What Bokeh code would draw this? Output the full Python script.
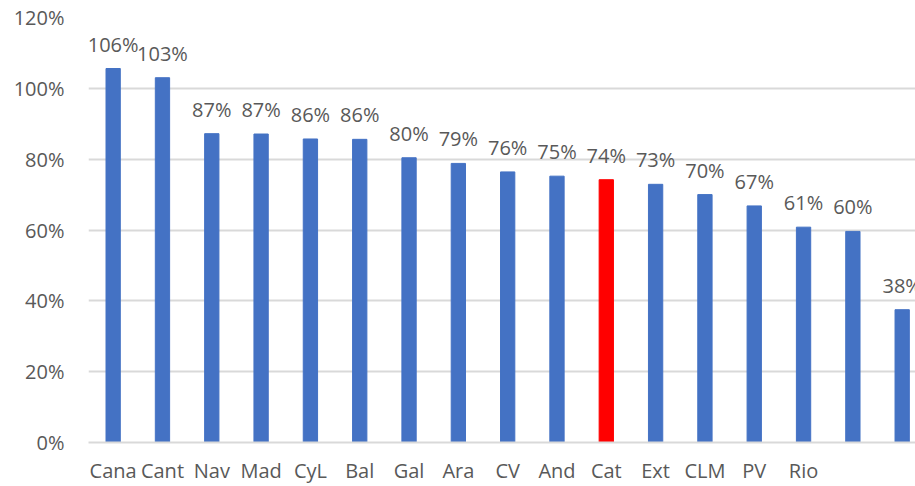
from bokeh.plotting import figure
from bokeh.models import ColumnDataSource, FixedTicker, NumeralTickFormatter, Range1d
from bokeh.core.properties import value
from bokeh.embed import file_html
from bokeh.resources import INLINE

categories = ["Cana", "Cant", "Nav", "Mad", "CyL", "Bal", "Gal", "Ara", "CV",
              "And", "Cat", "Ext", "CLM", "PV", "Rio", "", ""]
values = [1.056, 1.030, 0.872, 0.871, 0.857, 0.856, 0.804, 0.788, 0.764,
          0.752, 0.742, 0.729, 0.700, 0.668, 0.608, 0.596, 0.375]
highlight = "Cat"
y_ticks = [0, 0.2, 0.4, 0.6, 0.8, 1.0, 1.2]

BLUE = "#4472C4"
RED = "#FF0000"
TXT = "#595959"
FONT = "Open Sans"

xs = list(range(len(categories)))
colors = [RED if c == highlight else BLUE for c in categories]
labels = [f"{round(v * 100)}%" for v in values]
src = ColumnDataSource(dict(x=xs, top=values, color=colors, label=labels))

p = figure(width=915, height=486, output_backend="svg", toolbar_location=None,
           x_range=Range1d(-0.5, 16.27), y_range=Range1d(0, 1.2),
           min_border_left=88, min_border_top=17, min_border_bottom=44,
           min_border_right=0)
p.outline_line_color = None
p.background_fill_color = "white"

p.vbar(x="x", top="top", width=0.29, color="color", source=src)
p.text(x="x", y="top", text="label", source=src, text_align="center",
       text_baseline="bottom", y_offset=-11, text_font=value(FONT),
       text_font_size="20px", text_color=TXT)

p.xaxis.ticker = FixedTicker(ticks=xs)
p.xaxis.major_label_overrides = {i: c for i, c in enumerate(categories)}
p.xaxis.major_tick_line_color = None
p.xaxis.major_tick_out = 0
p.xaxis.major_tick_in = 0
p.xaxis.minor_tick_line_color = None
p.xaxis.axis_line_color = "#D9D9D9"
p.xaxis.axis_line_width = 2
p.xaxis.major_label_standoff = 14
p.xaxis.major_label_text_font = FONT
p.xaxis.major_label_text_font_size = "20px"
p.xaxis.major_label_text_color = TXT

p.yaxis.ticker = FixedTicker(ticks=y_ticks)
p.yaxis.formatter = NumeralTickFormatter(format="0%")
p.yaxis.major_tick_line_color = None
p.yaxis.major_tick_out = 0
p.yaxis.major_tick_in = 0
p.yaxis.minor_tick_line_color = None
p.yaxis.axis_line_color = None
p.yaxis.major_label_standoff = 24
p.yaxis.major_label_text_font = FONT
p.yaxis.major_label_text_font_size = "20px"
p.yaxis.major_label_text_color = TXT

p.xgrid.grid_line_color = None
p.ygrid.grid_line_color = "#D9D9D9"
p.ygrid.grid_line_width = 2

open("out.html", "w").write(file_html(p, INLINE))
